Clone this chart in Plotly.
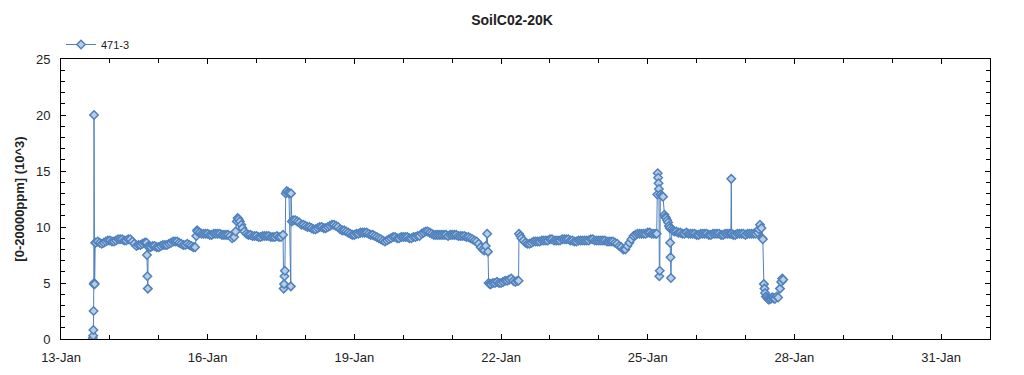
import pandas as pd
import plotly.graph_objects as go

# ---- data ----
start_date = "2014-01-13"
x_range = ["2014-01-13 00:00", "2014-02-01 00:00"]
series_name = "471-3"
chart_title = "SoilC02-20K"
y_title = "[0-20000ppm] (10^3)"

# hours since 13-Jan 00:00
hours = [
    15.6, 15.8, 15.9, 16.0, 16.1, 16.2, 16.3, 16.5, 16.8,
    17, 18, 19, 20, 21, 22, 23, 24, 25, 26, 27, 28, 29, 30, 31, 32, 33, 34,
    35, 36, 37, 38, 39, 40, 41, 41.6,
    42.0, 42.2, 42.4, 42.6, 42.8,
    43, 44, 45, 46, 47, 48, 49, 50, 51, 52, 53, 54, 55, 56, 57, 58, 59, 60,
    61, 62, 63, 64, 65, 65.8, 66.4, 66.8,
    67, 68, 69, 70, 71, 72, 73, 74, 75, 76, 77, 78, 79, 80, 81, 82, 83, 84,
    85, 85.7, 86.3, 86.7, 87.2, 87.8, 88.5, 89, 90, 91, 92, 93, 94, 95, 96,
    97, 98, 99, 100, 101, 102, 103, 104, 105, 106, 107, 108,
    109.0, 109.3, 109.5, 109.7, 109.9, 110.3, 110.8, 111.6, 111.9, 112.8,
    112.9, 113.3,
    114, 115, 116, 117, 118, 119, 120, 121, 122, 123, 124, 125, 126, 127,
    128, 129, 130, 131, 132, 133, 134, 135, 136, 137, 138, 139, 140, 141,
    142, 143, 144, 145, 146, 147, 148, 149, 150, 151, 152, 153, 154, 155,
    156, 157, 158, 159, 160, 161, 162, 163, 164, 165, 166, 167, 168, 169,
    170, 171, 172, 173, 174, 175, 176, 177, 178, 179, 180, 181, 182, 183,
    184, 185, 186, 187, 188, 189, 190, 191, 192, 193, 194, 195, 196, 197,
    198, 199, 200, 201, 202, 203, 204, 205, 206, 207, 207.8, 208.5, 209.2,
    209.6, 209.9,
    210.5, 211, 212, 213, 214, 215, 216, 217, 218, 219, 220, 221, 222, 223,
    224, 224.6, 224.8,
    225.5, 226, 227, 228, 229, 230, 231, 232, 233, 234, 235, 236, 237, 238,
    239, 240, 241, 242, 243, 244, 245, 246, 247, 248, 249, 250, 251, 252,
    253, 254, 255, 256, 257, 258, 259, 260, 261, 262, 263, 264, 265, 266,
    267, 268, 269, 270, 271, 272, 273, 274, 275, 276, 277, 278, 279, 280,
    281, 282, 283, 284, 285, 286, 287, 288, 289, 290, 291, 292, 292.4,
    292.7, 292.9, 293.1, 293.3, 293.5, 293.7, 293.9, 294.2, 295.0, 295.5,
    296.2, 296.6, 297, 297.5, 298, 298.4, 298.8, 299.0, 299.2, 299.4, 299.8,
    300.5, 301, 302, 303, 304, 305, 306, 307, 308, 309, 310, 311, 312, 313,
    314, 315, 316, 317, 318, 319, 320, 321, 322, 323, 324, 325, 326, 327,
    328, 328.8, 329.0, 329.2, 330, 331, 332, 333, 334, 335, 336, 337, 338,
    339, 340, 341, 342, 342.5, 343.1, 343.8, 344.2,
    344.5, 345.0, 345.3, 345.6, 346.0, 346.5, 347, 347.5, 348, 348.5, 349,
    349.5, 350, 350.5, 351.3, 352.0, 352.9, 353.5, 354.0, 354.5,
]

values = [
    0.1, 0.3, 0.8, 2.5, 4.9, 20.0, 5.0, 4.9, 8.6,
    8.6, 8.7, 8.6, 8.5, 8.6, 8.7, 8.8, 8.8, 8.7, 8.7, 8.8, 8.9, 8.9, 8.9, 8.8, 8.8, 8.9, 8.9,
    8.7, 8.5, 8.3, 8.4, 8.4, 8.5, 8.6, 8.6,
    8.6, 7.5, 5.6, 4.5, 8.3,
    8.2, 8.2, 8.3, 8.3, 8.2, 8.2, 8.3, 8.4, 8.4, 8.4, 8.5, 8.6, 8.7, 8.7, 8.7, 8.6, 8.5, 8.4,
    8.4, 8.5, 8.4, 8.3, 8.2, 8.2, 9.2, 9.7,
    9.6, 9.5, 9.4, 9.4, 9.4, 9.4, 9.3, 9.3, 9.4, 9.4, 9.4, 9.4, 9.3, 9.3, 9.3, 9.3, 9.2, 9.0,
    9.1, 9.6, 10.5, 10.8, 10.7, 10.5, 10.2, 9.9, 9.6, 9.4, 9.3, 9.3, 9.2, 9.2, 9.2,
    9.1, 9.1, 9.2, 9.2, 9.2, 9.2, 9.1, 9.1, 9.1, 9.2, 9.1, 9.1,
    9.3, 4.5, 4.9, 5.6, 6.1, 13.0, 13.2, 13.1, 13.0, 4.7,
    13.0, 10.5,
    10.6, 10.6, 10.5, 10.4, 10.2, 10.2, 10.1, 10.0, 10.0, 9.9, 9.8, 9.8, 9.9, 10.0,
    10.0, 9.9, 9.9, 10.0, 10.1, 10.2, 10.2, 10.1, 10.0, 9.8, 9.7, 9.7, 9.6, 9.5,
    9.4, 9.3, 9.3, 9.4, 9.4, 9.5, 9.5, 9.5, 9.5, 9.4, 9.3, 9.3, 9.2, 9.1,
    9.0, 8.9, 8.8, 8.7, 8.8, 8.9, 9.0, 9.1, 9.1, 9.0, 9.0, 9.1, 9.1, 9.1,
    9.1, 9.0, 9.0, 9.1, 9.1, 9.2, 9.2, 9.4, 9.5, 9.6, 9.6, 9.5, 9.4, 9.3,
    9.3, 9.3, 9.3, 9.3, 9.3, 9.3, 9.2, 9.3, 9.3, 9.3, 9.3, 9.2, 9.2, 9.2,
    9.2, 9.1, 9.1, 9.0, 8.9, 8.8, 8.7, 8.5, 8.2, 8.0, 7.9, 8.3, 9.4,
    7.8, 5.0,
    4.9, 4.9, 5.0, 5.0, 5.1, 5.0, 5.0, 5.1, 5.2, 5.2, 5.3, 5.4, 5.2, 5.1,
    5.2, 5.2, 9.4,
    9.2, 9.0, 8.8, 8.6, 8.5, 8.5, 8.6, 8.7, 8.7, 8.7, 8.7, 8.8, 8.8, 8.8,
    8.8, 8.9, 8.9, 8.8, 8.8, 8.8, 8.8, 8.9, 8.9, 8.9, 8.9, 8.8, 8.8, 8.7,
    8.7, 8.8, 8.8, 8.8, 8.8, 8.8, 8.8, 8.9, 8.9, 8.8, 8.8, 8.8, 8.8, 8.8,
    8.8, 8.7, 8.7, 8.7, 8.7, 8.6, 8.5, 8.3, 8.2, 8.0, 8.0, 8.3, 8.6, 8.9,
    9.2, 9.3, 9.4, 9.4, 9.4, 9.4, 9.4, 9.5, 9.5, 9.4, 9.4, 9.4, 9.4,
    12.9, 14.8, 14.4, 13.9, 13.4, 5.6, 6.1, 12.9, 12.8, 12.7,
    11.1, 10.9, 10.8, 10.6, 10.4, 10.1, 9.9, 8.6, 7.3, 5.45, 9.8,
    9.7, 9.6, 9.6, 9.5, 9.5, 9.4, 9.4, 9.5, 9.4, 9.4, 9.4, 9.4, 9.3, 9.3,
    9.4, 9.4, 9.4, 9.4, 9.3, 9.3, 9.4, 9.4, 9.4, 9.4, 9.3, 9.3, 9.4, 9.4,
    9.4, 9.4, 14.3, 9.4, 9.3, 9.3, 9.4, 9.4, 9.4, 9.4, 9.3, 9.4, 9.4,
    9.4, 9.4, 9.4, 9.5, 9.8, 10.2, 9.9, 9.0,
    8.9, 4.9, 4.5, 4.1, 3.8, 3.7, 3.6, 3.5, 3.6, 3.6, 3.7,
    3.7, 3.6, 3.6, 3.8, 3.7, 4.5, 5.1, 5.4, 5.3,
]

times = pd.Timestamp(start_date) + pd.to_timedelta(hours, unit="h")

LINE = "#4F81BD"
FILL = "#B9CDE5"
FONT = "Liberation Sans, Arial, sans-serif"
DAY_MS = 86400000

fig = go.Figure()
fig.add_trace(go.Scatter(
    x=times, y=values, mode="lines+markers", name=series_name,
    line=dict(color=LINE, width=1),
    marker=dict(symbol="diamond", size=6.5, color=FILL,
                line=dict(color=LINE, width=1.5)),
))

fig.update_layout(
    width=1024, height=375,
    paper_bgcolor="white", plot_bgcolor="white",
    margin=dict(l=61, r=34, t=59, b=36, autoexpand=False),
    font=dict(family=FONT, size=13, color="black"),
    title=dict(text="<b>" + chart_title + "</b>", x=0.5, xref="container",
               y=0.947, yref="container", yanchor="middle",
               font=dict(family=FONT, size=14, color="#222")),
    showlegend=True,
    legend=dict(x=0.0, y=1.0, xanchor="left", yanchor="bottom",
                orientation="h", bgcolor="rgba(0,0,0,0)",
                font=dict(family=FONT, size=11, color="#222"),
                itemwidth=30),
    xaxis=dict(
        type="date", range=x_range, showgrid=False, zeroline=False,
        showline=True, linecolor="black", linewidth=1, mirror="ticks",
        ticks="inside", ticklen=5, tickcolor="black", automargin=False,
        tick0=start_date, dtick=3 * DAY_MS, tickformat="%d-%b",
        ticklabelstandoff=6,
        minor=dict(dtick=DAY_MS, tick0=start_date, ticks="inside",
                   ticklen=4, tickcolor="black", showgrid=False),
        tickfont=dict(family=FONT, size=13, color="#222"),
    ),
    xaxis2=dict(
        type="date", range=x_range, overlaying="x", side="bottom",
        anchor="y", showgrid=False, zeroline=False, showline=False,
        showticklabels=False, ticks="outside", ticklen=5, automargin=False,
        tickcolor="black", tick0=start_date, dtick=3 * DAY_MS,
        minor=dict(dtick=DAY_MS, tick0=start_date, ticks="outside",
                   ticklen=3, tickcolor="black", showgrid=False),
    ),
    yaxis=dict(
        range=[0, 25], showgrid=False, zeroline=False,
        showline=True, linecolor="black", linewidth=1, mirror="ticks",
        ticks="inside", ticklen=5, tickcolor="black", dtick=5, tick0=0,
        automargin=False,
        minor=dict(dtick=1, ticks="inside", ticklen=4,
                   tickcolor="black", showgrid=False),
        tickfont=dict(family=FONT, size=13, color="#222"),
        ticklabelstandoff=7,
        title=dict(text="<b>" + y_title + "</b>", standoff=8,
                   font=dict(family=FONT, size=13, color="#222")),
    ),
    yaxis2=dict(
        range=[0, 25], overlaying="y", side="left", anchor="x",
        showgrid=False, zeroline=False, showline=False, automargin=False,
        showticklabels=False, ticks="outside", ticklen=5,
        tickcolor="black", dtick=5, tick0=0,
        minor=dict(dtick=1, ticks="outside", ticklen=1,
                   tickcolor="black", showgrid=False),
    ),
)

fig.write_html("out.html", config={"displayModeBar": False},
               post_script="document.body.style.margin='0';")
